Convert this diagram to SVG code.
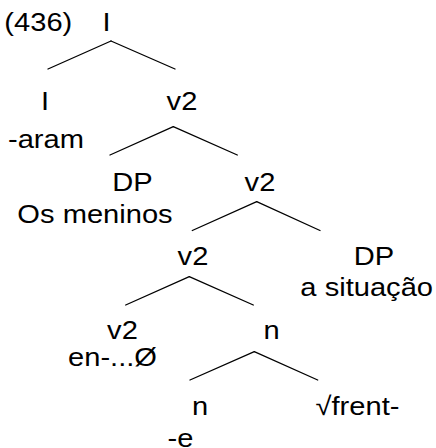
<svg xmlns="http://www.w3.org/2000/svg" width="436" height="448" viewBox="0 0 436 448">
<style>
text{font-family:"Liberation Sans",Arial,sans-serif;font-size:26px;fill:#000;text-anchor:middle}
.edges line{stroke:#000;stroke-width:1.3;stroke-linecap:round}
</style>
<rect width="436" height="448" fill="#fff"/>
<g id="exnum"><text transform="translate(38.3,31) scale(1.12,1)">(436)</text></g>
<g id="n-I-root"><text transform="translate(106.5,31) scale(1.12,1)">I</text></g>
<g id="n-I"><text transform="translate(45,110) scale(1.12,1)">I</text><text transform="translate(46,148) scale(1.12,1)">-aram</text></g>
<g id="n-v2-a"><text transform="translate(182,110) scale(1.12,1)">v2</text></g>
<g id="n-DP-a"><text transform="translate(132.5,191) scale(1.12,1)">DP</text><text transform="translate(95,223) scale(1.12,1)">Os meninos</text></g>
<g id="n-v2-b"><text transform="translate(260,191) scale(1.12,1)">v2</text></g>
<g id="n-v2-c"><text transform="translate(193,265) scale(1.12,1)">v2</text></g>
<g id="n-DP-b"><text transform="translate(374,265) scale(1.12,1)">DP</text><text transform="translate(366.7,296) scale(1.12,1)">a situação</text></g>
<g id="n-v2-d"><text transform="translate(122.5,339) scale(1.12,1)">v2</text><text transform="translate(112.5,366) scale(1.12,1)">en-...Ø</text></g>
<g id="n-n-a"><text transform="translate(271.7,339) scale(1.12,1)">n</text></g>
<g id="n-n-b"><text transform="translate(200,415) scale(1.12,1)">n</text><text transform="translate(180.5,447) scale(1.12,1)">-e</text></g>
<g id="n-root"><text transform="translate(357.5,415) scale(1.12,1)">√frent-</text></g>
<g id="connectors" class="edges">
<line x1="111" y1="41" x2="48" y2="69"/><line x1="111" y1="41" x2="175" y2="69"/>
<line x1="173.3" y1="126.7" x2="110" y2="155"/><line x1="173.3" y1="126.7" x2="237.3" y2="155"/>
<line x1="256.7" y1="201.7" x2="192.3" y2="230.5"/><line x1="256.7" y1="201.7" x2="320" y2="230.5"/>
<line x1="189.3" y1="276.7" x2="125.7" y2="305"/><line x1="189.3" y1="276.7" x2="253.3" y2="305"/>
<line x1="254.3" y1="351.7" x2="190" y2="380"/><line x1="254.3" y1="351.7" x2="317.7" y2="380"/>
</g>
</svg>
